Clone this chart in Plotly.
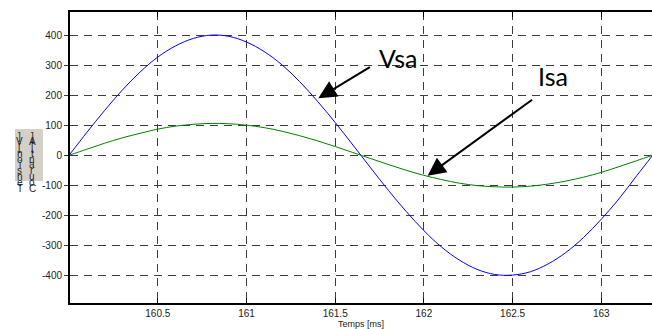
import plotly.graph_objects as go

# time axis [ms]
t_ms = [160.0, 160.1, 160.2, 160.3, 160.4, 160.5, 160.6, 160.7, 160.8, 160.9,
        161.0, 161.1, 161.2, 161.3, 161.4, 161.5, 161.6, 161.7, 161.8, 161.9,
        162.0, 162.1, 162.2, 162.3, 162.4, 162.5, 162.6, 162.7, 162.8, 162.9,
        163.0, 163.1, 163.2, 163.29]
# voltage Vsa [V]
vsa = [0, 76, 149, 217, 277, 327, 364, 389, 400, 396,
       377, 345, 301, 245, 180, 109, 34, -42, -117, -187,
       -251, -306, -349, -380, -397, -399, -388, -362, -324, -274,
       -213, -145, -68, 0]
# current Isa [A]
isa = [0, 20, 40, 58, 73, 87, 97, 103, 106, 105,
       100, 92, 80, 65, 48, 29, 9, -11, -31, -50,
       -67, -81, -93, -101, -105, -106, -103, -96, -86, -73,
       -57, -38, -18, 0]

x_ticks = [160.5, 161, 161.5, 162, 162.5, 163]
y_ticks = [400, 300, 200, 100, 0, -100, -200, -300, -400]
x_title = "Temps [ms]"
label_col1 = ["]", "V", "[", "n", "o", "i", "s", "n", "e", "T"]
label_col2 = ["]", "A", "[", "t", "n", "a", "r", "u", "o", "C"]

W, H = 652, 329
ML, MR, MT, MB = 70, 0, 12, 26

fig = go.Figure()
fig.add_trace(go.Scatter(x=t_ms, y=vsa, mode="lines", name="Vsa",
                         line=dict(color="rgb(0,0,255)", width=1, shape="spline")))
fig.add_trace(go.Scatter(x=t_ms, y=isa, mode="lines", name="Isa",
                         line=dict(color="rgb(0,128,0)", width=1, shape="spline")))

grid = dict(showgrid=True, gridcolor="rgb(60,60,60)", gridwidth=1, griddash="8px,6px")
fig.update_xaxes(range=[160.005, 163.286], tickvals=x_ticks,
                 ticktext=[str(v) for v in x_ticks],
                 showline=True, linecolor="black", linewidth=2, mirror="allticks",
                 ticks="inside", ticklen=5, tickcolor="black",
                 tickfont=dict(family="Liberation Sans, Arial", size=10, color="#222"),
                 zeroline=False, automargin=False, **grid)
fig.update_yaxes(range=[-492, 477], tickvals=y_ticks,
                 ticktext=[str(v) for v in y_ticks],
                 showline=True, linecolor="black", linewidth=2, mirror=False,
                 ticks="outside", ticklen=4, tickcolor="rgb(60,60,60)",
                 tickfont=dict(family="Liberation Sans, Arial", size=10, color="#222"),
                 zeroline=False, automargin=False, **grid)

pw, ph = W - ML - MR, H - MT - MB
def px2paper_x(px):
    return (px - ML) / pw
def px2paper_y(py):
    return (H - MB - py) / ph

ann = []
arrow_style = dict(showarrow=True, arrowhead=2, arrowsize=1.8, arrowwidth=2,
                   arrowcolor="black", text="", xref="x", yref="y", axref="pixel", ayref="pixel")
ann.append(dict(x=161.405, y=190, ax=53, ay=-32, **arrow_style))
ann.append(dict(x=162.021, y=-68, ax=106, ay=-77, **arrow_style))
txt_font = dict(family="Lato, Open Sans", size=25, color="black")
ann.append(dict(x=161.854, y=324, text="Vsa", showarrow=False, font=txt_font, xref="x", yref="y"))
ann.append(dict(x=162.728, y=264, text="Isa", showarrow=False, font=txt_font, xref="x", yref="y"))
ann.append(dict(x=px2paper_x(361), y=px2paper_y(324), xref="paper", yref="paper",
                text=x_title, showarrow=False, xanchor="center", yanchor="middle",
                font=dict(family="Liberation Sans, Arial", size=9, color="#222")))

shapes = [dict(type="rect", xref="paper", yref="paper",
               x0=px2paper_x(15), x1=px2paper_x(43), y0=px2paper_y(181), y1=px2paper_y(129),
               fillcolor="rgb(212,208,200)", line=dict(width=0), layer="above")]

for col, xc in ((label_col1, 19.5), (label_col2, 32)):
    n = len(col)
    for i, ch in enumerate(col):
        py = 136 + i * (52 / (n - 1))
        ann.append(dict(x=px2paper_x(xc), y=px2paper_y(py), xref="paper", yref="paper",
                        text=ch, showarrow=False, xanchor="center", yanchor="middle",
                        font=dict(family="Liberation Sans, Arial", size=10, color="#222")))

fig.update_layout(width=W, height=H, margin=dict(l=ML, r=MR, t=MT, b=MB, pad=0),
                  plot_bgcolor="white", paper_bgcolor="white", showlegend=False,
                  annotations=ann, shapes=shapes)

fig.write_html("out.html", config={"displayModeBar": False},
               post_script="document.body.style.margin='0px';document.body.style.overflow='hidden';")
